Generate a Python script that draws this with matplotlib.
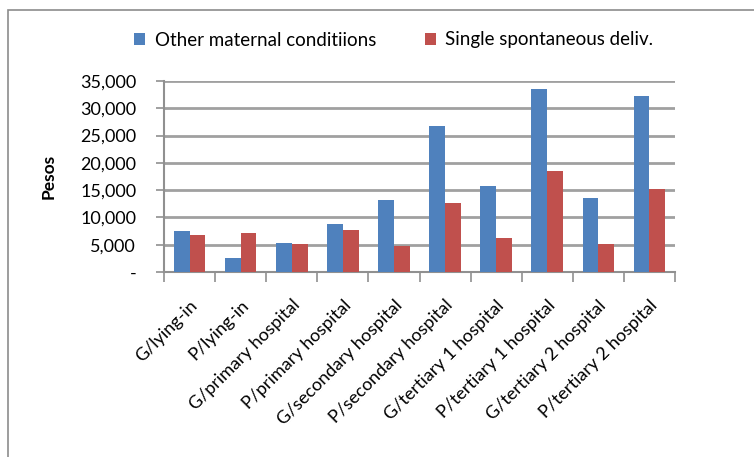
import matplotlib.pyplot as plt
import numpy as np
from matplotlib.patches import Rectangle
from matplotlib.ticker import FuncFormatter

# Data
categories = ["G/lying-in", "P/lying-in", "G/primary hospital", "P/primary hospital",
              "G/secondary hospital", "P/secondary hospital", "G/tertiary 1 hospital",
              "P/tertiary 1 hospital", "G/tertiary 2 hospital", "P/tertiary 2 hospital"]
other_maternal = [7450, 2500, 5250, 8750, 13150, 26700, 15700, 33500, 13500, 32200]
single_spont = [6700, 7100, 5100, 7650, 4750, 12600, 6200, 18500, 5100, 15150]
series_names = ["Other maternal conditiions", "Single spontaneous deliv."]

plt.rcParams['font.family'] = ['Lato', 'DejaVu Sans']

fig = plt.figure(figsize=(7.54, 4.57), dpi=100)
ax = fig.add_axes([164/754, 1 - 272/457, 511/754, 191/457])

x = np.arange(len(categories))
w = 0.31
ax.bar(x - w/2, other_maternal, w, color="#4F81BD", label=series_names[0], zorder=3)
ax.bar(x + w/2, single_spont, w, color="#C0504D", label=series_names[1], zorder=3)

ax.set_xlim(-0.5, len(categories) - 0.5)
ax.set_ylim(0, 35000)
ax.set_yticks(range(0, 35001, 5000))
ax.yaxis.set_major_formatter(FuncFormatter(lambda v, p: "-" if v == 0 else f"{int(v):,}"))
ax.grid(axis="y", color="#a0a0a0", linewidth=2.0, zorder=0)

ax.set_xticks(x)
ax.set_xticklabels(categories, rotation=45, ha="right", va="top",
                   rotation_mode="anchor", fontsize=13)
ax.tick_params(axis="x", length=0, pad=18)
ax.set_xticks(np.arange(-0.5, len(categories), 1), minor=True)
ax.tick_params(axis="x", which="minor", length=7, color="#909090", width=1.2)
ax.tick_params(axis="y", length=6, color="#909090", width=1.2, labelsize=13, pad=14)

for s in ["top", "right"]:
    ax.spines[s].set_visible(False)
for s in ["left", "bottom"]:
    ax.spines[s].set_color("#909090")
    ax.spines[s].set_linewidth(1.5)

ax.set_ylabel("Pesos", fontsize=12.5, fontweight="bold", labelpad=17)

fig.legend(loc="center", bbox_to_anchor=(0.522, 1 - 40/457), ncol=2, frameon=False,
           fontsize=13.5, handlelength=0.6, handleheight=0.6, handletextpad=0.5,
           columnspacing=2.6)

# outer chart frame (cropped on the right and bottom)
fig.patches.append(Rectangle((8/754, -0.1), 1.2, 1.1 - 10/457,
                             transform=fig.transFigure, fill=False,
                             edgecolor="#8c8c8c", linewidth=1.2))

fig.savefig("out.png", dpi=100)
